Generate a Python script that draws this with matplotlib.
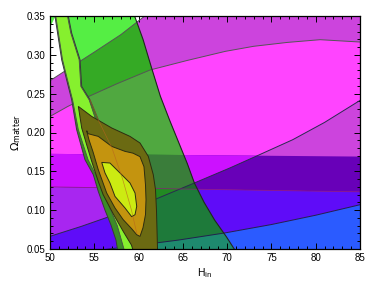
import numpy as np
import matplotlib
matplotlib.use('Agg')
import matplotlib.pyplot as plt
from matplotlib.patches import Polygon
from matplotlib.ticker import MultipleLocator

# --- contour outlines (H_in, Omega_matter) ---
# set A: wide tilted ellipse (outer = purple, inner = magenta)
a_in_upper_x = [47, 50, 52, 54, 57.5, 61.3, 65.5, 69.8, 73, 76.8, 80.5, 85, 88]
a_in_upper_y = [0.200, 0.2207, 0.2335, 0.2445, 0.2625, 0.2805, 0.2928, 0.3045, 0.311, 0.316, 0.3195, 0.3165, 0.313]
a_in_lower_x = [47, 50, 53.5, 57, 62, 66.4, 70.3, 73.4, 77.4, 81, 85, 88]
a_in_lower_y = [0.056, 0.0663, 0.079, 0.0929, 0.1145, 0.1355, 0.1543, 0.1701, 0.1907, 0.213, 0.2413, 0.265]
a_out_upper_x = [47, 50, 52, 55, 58, 60.7, 62, 63]
a_out_upper_y = [0.245, 0.2667, 0.2815, 0.3035, 0.326, 0.35, 0.36, 0.37]
a_out_lower_x = [47, 50, 55, 59, 64.5, 69.7, 75, 80, 85, 88]
a_out_lower_y = [0.037, 0.041, 0.0475, 0.0534, 0.0615, 0.0706, 0.0815, 0.0935, 0.107, 0.115]

# set B: horizontal band edges
band_x = [50, 85]
band_low_y = [0.130, 0.1236]
band_high_y = [0.1725, 0.169]

# set C: green diagonal band
c_right_x = [59.5, 59.55, 60.5, 61.5, 62.45, 63.5, 64.5, 65.5, 66.3, 67.4, 68.6, 69.9, 70.8, 71.1]
c_right_y = [0.36, 0.35, 0.32, 0.282, 0.247, 0.216, 0.188, 0.160, 0.135, 0.110, 0.087, 0.066, 0.050, 0.04]
c_left_x = [60.5, 59.5, 58.5, 57.5, 56.0, 54.8, 54.0, 53.2, 52.4, 51.7, 51.1, 50.65, 49.9, 49.9]
c_left_y = [0.04, 0.07, 0.10, 0.13, 0.165, 0.20, 0.235, 0.265, 0.295, 0.32, 0.34, 0.3505, 0.333, 0.36]

# set D: narrow lime strip
d_out_left_x = [50.5, 50.56, 51.32, 51.88, 52.45, 53.01, 53.95, 54.89, 55.45, 56.21, 56.89, 57.45, 57.75]
d_out_left_y = [0.36, 0.35, 0.2935, 0.2677, 0.242, 0.2036, 0.165, 0.1457, 0.1242, 0.100, 0.0807, 0.0614, 0.04]
d_out_right_x = [60.3, 59.8, 59.2, 58.2, 57.0, 55.5, 54.52, 53.58, 53.39, 52.45, 52.07, 52.0]
d_out_right_y = [0.04, 0.07, 0.10, 0.14, 0.18, 0.215, 0.242, 0.2594, 0.2937, 0.328, 0.35, 0.36]
d_in_left_x = [50.65, 50.65, 51.42, 51.98, 52.55, 53.2, 54.3, 55.4, 56.5, 57.6, 58.6]
d_in_left_y = [0.36, 0.35, 0.2935, 0.2677, 0.242, 0.2036, 0.165, 0.14, 0.11, 0.08, 0.04]
d_in_right_x = [59.8, 59.4, 58.8, 57.8, 56.6, 55.2, 54.42, 53.48, 53.29, 52.35, 51.97, 51.9]
d_in_right_y = [0.04, 0.07, 0.10, 0.14, 0.18, 0.215, 0.242, 0.2594, 0.2937, 0.328, 0.35, 0.36]

# set E: three nested contours
e_out_x = [53.2, 54.71, 56.97, 59.03, 60.16, 61.10, 61.66, 61.91, 62.02, 62.08, 62.14, 62.15,
           59.6, 59.2, 58.3, 57.1, 56.0, 55.45, 54.71, 54.14, 53.58]
e_out_y = [0.2336, 0.2207, 0.2058, 0.1950, 0.1865, 0.1692, 0.1457, 0.1264, 0.1006, 0.0749, 0.0491, 0.04,
           0.04, 0.055, 0.072, 0.096, 0.12, 0.137, 0.1628, 0.1843, 0.2058]
e_mid_x = [54.14, 54.29, 55.45, 56.97, 58.47, 59.37, 60.16, 60.61, 60.78, 60.84, 60.78, 60.50, 60.16,
           59.79, 59.22, 58.27, 57.34, 56.40, 55.45, 54.85, 54.40]
e_mid_y = [0.2023, 0.1985, 0.1950, 0.1821, 0.1757, 0.1734, 0.1689, 0.1560, 0.1328, 0.1135, 0.0942, 0.0774, 0.0662,
           0.0684, 0.0761, 0.0877, 0.1028, 0.1221, 0.1521, 0.1753, 0.1907]
e_in_x = [55.84, 56.77, 57.90, 59.03, 59.60, 59.79, 59.60, 59.22, 58.47, 57.34, 56.77, 56.21]
e_in_y = [0.1615, 0.1607, 0.1479, 0.1350, 0.1221, 0.1049, 0.0942, 0.0916, 0.1028, 0.1177, 0.1350, 0.1479]

# colours
col_blue, col_purple, col_magenta = '#2B5BFF', '#CC44DD', '#FF44FF'
col_purple_low, col_magenta_low = '#5F0CF8', '#A826F0'
col_purple_band, col_magenta_band = '#6800B8', '#CC11FF'
g_white, g_blue, g_purple, g_magenta = '#55EE44', '#1E8A6E', '#35AA25', '#50A840'
g_purple_low, g_magenta_low = '#1E7A3A', '#228A22'
g_purple_band, g_magenta_band = '#1F6A30', '#3A7D3A'


def clip_half(xs, ys, lx, ly, below=True):
    # keep the part of polygon (xs, ys) below (or above) the line through lx, ly
    xs = np.asarray(xs, float)
    ys = np.asarray(ys, float)
    slope = (ly[1] - ly[0]) / (lx[1] - lx[0])
    f = ys - (ly[0] + slope * (xs - lx[0]))
    if not below:
        f = -f
    ox, oy = [], []
    n = len(xs)
    for i in range(n):
        j = (i + 1) % n
        if f[i] <= 0:
            ox.append(xs[i]); oy.append(ys[i])
        if (f[i] <= 0) != (f[j] <= 0):
            t = f[i] / (f[i] - f[j])
            ox.append(xs[i] + t * (xs[j] - xs[i]))
            oy.append(ys[i] + t * (ys[j] - ys[i]))
    return ox, oy


plt.rcParams['font.family'] = ['Liberation Sans', 'DejaVu Sans']

fig = plt.figure(figsize=(3.74, 2.81), dpi=100)
ax = fig.add_axes([50 / 374, 1 - 249 / 281, 310 / 374, 233 / 281])
ax.set_xlim(50, 85)
ax.set_ylim(0.05, 0.35)

# polygons
a_in_x = a_in_upper_x + a_in_lower_x[::-1]
a_in_y = a_in_upper_y + a_in_lower_y[::-1]
a_out_x = a_out_upper_x + [88, 88] + a_out_lower_x[::-1][1:]
a_out_y = a_out_upper_y + [0.37, 0.115] + a_out_lower_y[::-1][1:]
rect_x = [45, 90, 90, 45]
rect_y = [0.0, 0.0, 0.4, 0.4]
low_x, low_y = clip_half(rect_x, rect_y, band_x, band_low_y, True)
ao_low = clip_half(a_out_x, a_out_y, band_x, band_low_y, True)
ai_low = clip_half(a_in_x, a_in_y, band_x, band_low_y, True)
ao_b = clip_half(*clip_half(a_out_x, a_out_y, band_x, band_high_y, True), band_x, band_low_y, False)
ai_b = clip_half(*clip_half(a_in_x, a_in_y, band_x, band_high_y, True), band_x, band_low_y, False)

layers = [
    ((rect_x, rect_y), 'white', g_white),
    ((low_x, low_y), col_blue, g_blue),
    ((a_out_x, a_out_y), col_purple, g_purple),
    ((a_in_x, a_in_y), col_magenta, g_magenta),
    (ao_low, col_purple_low, g_purple_low),
    (ai_low, col_magenta_low, g_magenta_low),
    (ao_b, col_purple_band, g_purple_band),
    (ai_b, col_magenta_band, g_magenta_band),
]

c_x = c_right_x + c_left_x
c_y = c_right_y + c_left_y
c_patch = Polygon(np.column_stack([c_x, c_y]), closed=True, transform=ax.transData,
                  facecolor='none', edgecolor='none')
ax.add_patch(c_patch)

for (px, py), base, green in layers:
    ax.fill(px, py, color=base, lw=0, zorder=1)
for (px, py), base, green in layers:
    for p in ax.fill(px, py, color=green, lw=0, zorder=2):
        p.set_clip_path(c_patch)

# boundary lines of sets A, B and C
lc = '#555555'
ax.plot(a_in_upper_x, a_in_upper_y, color=lc, lw=0.7, zorder=3)
ax.plot(a_in_lower_x, a_in_lower_y, color='#2a2a50', lw=0.7, zorder=3)
ax.plot(a_out_upper_x, a_out_upper_y, color=lc, lw=0.7, zorder=3)
ax.plot(a_out_lower_x, a_out_lower_y, color='#202050', lw=0.7, zorder=3)
ax.plot(band_x, band_low_y, color='#8E1A78', lw=0.6, alpha=0.8, zorder=3)
ax.plot(c_right_x, c_right_y, color='#222222', lw=0.8, zorder=3)

# set D
ax.fill(d_out_left_x + d_out_right_x, d_out_left_y + d_out_right_y, color='#3C8C28',
        ec='#3a3a3a', lw=0.7, zorder=4)
ax.fill(d_in_left_x + d_in_right_x, d_in_left_y + d_in_right_y, color='#86F02E',
        ec='#4a4a4a', lw=0.6, zorder=4)

# set E
ax.fill(e_out_x, e_out_y, color='#6B6A12', ec='#2d2d10', lw=0.7, zorder=5)
ax.fill(e_mid_x, e_mid_y, color='#C4940F', ec='#2d2d10', lw=0.7, zorder=5)
ax.fill(e_in_x, e_in_y, color='#CCEB12', ec='#2d2d10', lw=0.7, zorder=5)
# D edge seen through E
ax.plot(d_out_right_x[1:7], d_out_right_y[1:7], color='#B8641E', lw=0.5, alpha=0.7, zorder=6)

# axes styling
ax.xaxis.set_major_locator(MultipleLocator(5))
ax.xaxis.set_minor_locator(MultipleLocator(1))
ax.yaxis.set_major_locator(MultipleLocator(0.05))
ax.yaxis.set_minor_locator(MultipleLocator(0.01))
ax.yaxis.set_major_formatter(matplotlib.ticker.FormatStrFormatter('%.2f'))
ax.tick_params(which='both', direction='in', top=True, right=True, labelsize=7, width=0.7, pad=3)
ax.tick_params(which='major', length=4)
ax.tick_params(which='minor', length=2)
for s in ax.spines.values():
    s.set_linewidth(0.9)
    s.set_zorder(10)
ax.set_axisbelow(False)

ax.set_xlabel(r'H$_{\rm in}$', fontsize=7.5, labelpad=2)
ax.set_ylabel(r'$\Omega_{\rm matter}$', fontsize=8, labelpad=3)

fig.savefig('out.png', dpi=100)
